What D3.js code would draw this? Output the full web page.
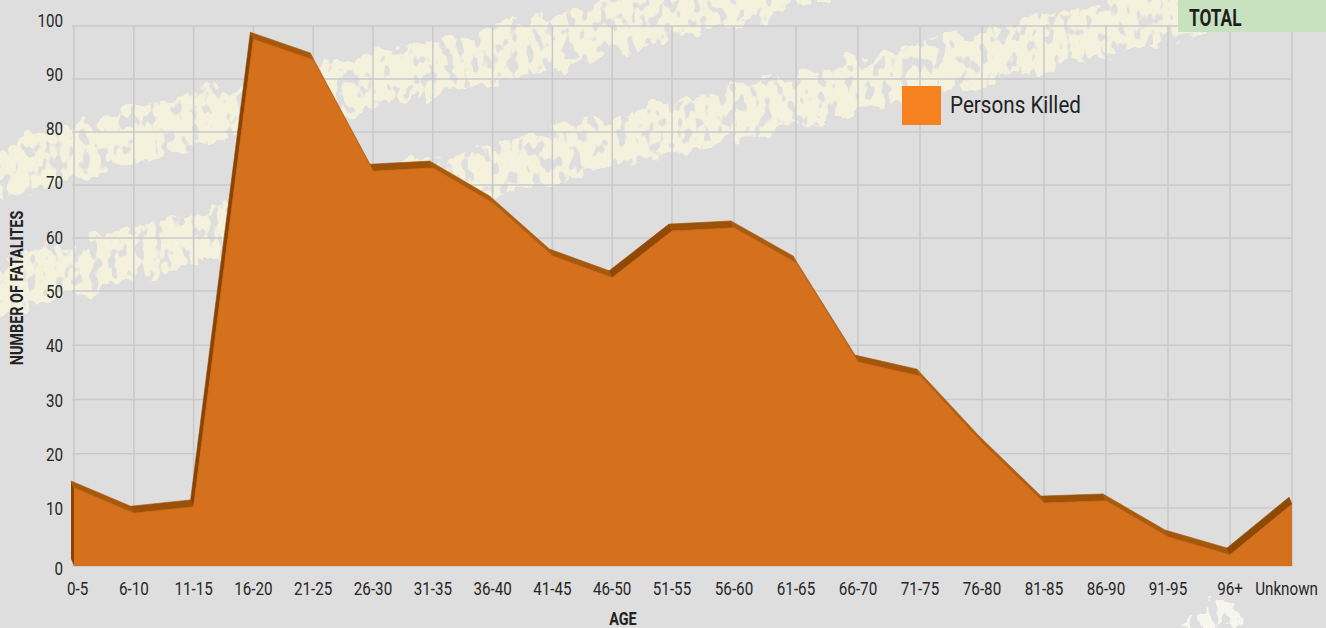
<!DOCTYPE html>
<html lang="en">
<head>
  <meta charset="UTF-8">
  <title>Fatalities by age</title>
  <script src="https://cdn.jsdelivr.net/npm/d3@7/dist/d3.min.js"></script>
  <style>
    body { margin: 0; background: #dfdfdf; }
    text { font-family: Roboto, "Liberation Sans", sans-serif; }
  </style>
</head>
<body>
<script>
  // data
  var categories = ['0-5', '6-10', '11-15', '16-20', '21-25', '26-30', '31-35', '36-40', '41-45', '46-50',
    '51-55', '56-60', '61-65', '66-70', '71-75', '76-80', '81-85', '86-90', '91-95', '96+', 'Unknown']
  var killed = [13.7, 9.1, 10.2, 97.5, 93.6, 72.6, 73.2, 66.6, 56.6, 52.5,
    61.3, 61.9, 55.3, 36.9, 34.3, 22, 10.9, 11.3, 5, 1.9, 10.7]
  var yTicks = [0, 10, 20, 30, 40, 50, 60, 70, 80, 90, 100]

  var W = 1326, H = 628
  var svg = d3.select('body').append('svg').attr('width', W).attr('height', H)

  // the source image is slightly unevenly stretched, hence the piecewise scales
  var xi = d3.scaleLinear().domain([0, 10, 20]).range([74, 672, 1292])
  var x = function(c) { return xi(categories.indexOf(c)) }
  var y = d3.scaleLinear().domain([0, 10, 50, 100]).range([566, 508, 291, 26])
  var dx = -3, dy = -7   // depth of the 3d ribbon

  // ---- textured background ----
  var defs = svg.append('defs')
  var f = defs.append('filter').attr('id', 'brush').attr('x', '-20%').attr('y', '-50%').attr('width', '140%').attr('height', '200%')
  f.append('feTurbulence').attr('type', 'fractalNoise').attr('baseFrequency', '0.05').attr('numOctaves', 3).attr('seed', 4).attr('result', 'noise')
  f.append('feDisplacementMap').attr('in', 'SourceGraphic').attr('in2', 'noise').attr('scale', 30).attr('xChannelSelector', 'R').attr('yChannelSelector', 'G').attr('result', 'disp')
  f.append('feTurbulence').attr('type', 'fractalNoise').attr('baseFrequency', '0.11 0.07').attr('numOctaves', 2).attr('seed', 9).attr('result', 'holes')
  f.append('feColorMatrix').attr('in', 'holes').attr('type', 'matrix')
    .attr('values', '0 0 0 0 0  0 0 0 0 0  0 0 0 0 0  0 0 0 -12 7.6').attr('result', 'mask')
  f.append('feComposite').attr('in', 'disp').attr('in2', 'mask').attr('operator', 'in')

  svg.append('rect').attr('width', W).attr('height', H).attr('fill', '#dedede')

  var bands = [
    [[-40, 182], [200, 116], [460, 64], [820, -22]],
    [[-30, 298], [120, 256], [500, 168], [900, 76], [1240, -2]]
  ]
  svg.append('g').selectAll('path').data(bands).join('path')
    .attr('d', d3.line().curve(d3.curveBasis))
    .attr('fill', 'none')
    .attr('stroke', '#f4f1dc')
    .attr('stroke-width', 52)
    .attr('stroke-linecap', 'round')
    .attr('filter', 'url(#brush)')
  svg.append('path')
    .attr('d', 'M1180,628 L1200,606 L1230,598 L1245,612 L1240,628 Z')
    .attr('fill', '#f6f5ee').attr('filter', 'url(#brush)')

  // ---- grid (back wall) ----
  var grid = svg.append('g').attr('stroke', '#c9c9cb').attr('stroke-width', 1.5)
  grid.selectAll('.h').data(yTicks).join('line')
    .attr('x1', x(categories[0]) - 2).attr('x2', x(categories[categories.length - 1]))
    .attr('y1', function(d) { return y(d) }).attr('y2', function(d) { return y(d) })
  grid.selectAll('.v').data(categories).join('line')
    .attr('x1', function(d) { return x(d) }).attr('x2', function(d) { return x(d) })
    .attr('y1', y(100)).attr('y2', y(0))

  // ---- 3d area ----
  var pts = categories.map(function(c, i) { return [x(c), y(killed[i])] })
  var chart = svg.append('g')
  var shade = d3.interpolateRgb('#b05f10', '#8a4400')

  // left side face
  chart.append('path')
    .attr('d', d3.line()([[pts[0][0], y(0)], pts[0], [pts[0][0] + dx, pts[0][1] + dy], [pts[0][0] + dx, y(0) + dy]]) + 'Z')
    .attr('fill', '#8a4400')

  // top ribbon, one quad per segment
  for (var i = 0; i < pts.length - 1; i++) {
    var a = pts[i], b = pts[i + 1]
    var ang = Math.atan2(a[1] - b[1], b[0] - a[0])
    var t = Math.max(0, Math.min(1, 0.45 + 0.6 * Math.sin(ang)))
    chart.append('path')
      .attr('d', d3.line()([a, b, [b[0] + dx, b[1] + dy], [a[0] + dx, a[1] + dy]]) + 'Z')
      .attr('fill', shade(t))
      .attr('stroke', shade(t)).attr('stroke-width', 0.6)
  }

  var area = d3.area()
    .x(function(d, i) { return x(categories[i]) })
    .y0(y(0))
    .y1(function(d) { return y(d) })
  chart.append('path')
    .datum(killed)
    .attr('d', area)
    .attr('fill', '#d5711d')
  chart.append('path')
    .datum(killed)
    .attr('d', d3.line().x(function(d, i) { return x(categories[i]) }).y(function(d) { return y(d) }))
    .attr('fill', 'none').attr('stroke', '#c96a1c').attr('stroke-width', 1)

  // ---- axes text (squeezed horizontally to mimic the condensed face) ----
  var yLab = d3.scaleLinear().domain([0, 10, 100]).range([568.5, 508.5, 20])
  svg.append('g').selectAll('text').data(yTicks).join('text')
    .attr('dy', '0.35em')
    .attr('text-anchor', 'end')
    .attr('font-size', 19).attr('fill', '#262626')
    .attr('transform', function(d) { return 'translate(63,' + yLab(d) + ') scale(0.8,1)' })
    .text(function(d) { return d })

  var sx = 0.8
  svg.append('g').selectAll('text').data(categories).join('text')
    .attr('dy', '0.35em')
    .attr('text-anchor', 'middle')
    .attr('font-size', 19).attr('fill', '#262626')
    .text(function(d) { return d })
    .each(function(d) {
      // keep the end labels inside the picture
      var w = this.getComputedTextLength() * sx
      var cx = Math.max(67 + w / 2, Math.min(1318 - w / 2, x(d)))
      d3.select(this).attr('transform', 'translate(' + cx + ',588) scale(' + sx + ',1)')
    })

  svg.append('text')
    .attr('text-anchor', 'middle')
    .attr('font-size', 18).attr('font-weight', 'bold').attr('fill', '#222')
    .attr('transform', 'translate(23,288) rotate(-90) scale(0.8,1)')
    .text('NUMBER OF FATALITES')

  svg.append('text')
    .attr('text-anchor', 'middle')
    .attr('font-size', 18).attr('font-weight', 'bold').attr('fill', '#222')
    .attr('transform', 'translate(623,625) scale(0.8,1)')
    .text('AGE')

  // ---- legend ----
  var legend = svg.append('g').attr('transform', 'translate(902,86)')
  legend.append('rect').attr('width', 39).attr('height', 39).attr('fill', '#f5821f')
  legend.append('text').attr('dy', '0.35em')
    .attr('transform', 'translate(48,19) scale(0.86,1)')
    .attr('font-size', 24).attr('fill', '#222').text('Persons Killed')

  // ---- TOTAL tab ----
  svg.append('rect').attr('x', 1178).attr('y', 0).attr('width', 148).attr('height', 32).attr('fill', '#c8e2c0')
  svg.append('text')
    .attr('transform', 'translate(1189,26) scale(0.72,1)')
    .attr('font-size', 24).attr('font-weight', 'bold').attr('fill', '#1e1e1e').text('TOTAL')
</script>
</body>
</html>
